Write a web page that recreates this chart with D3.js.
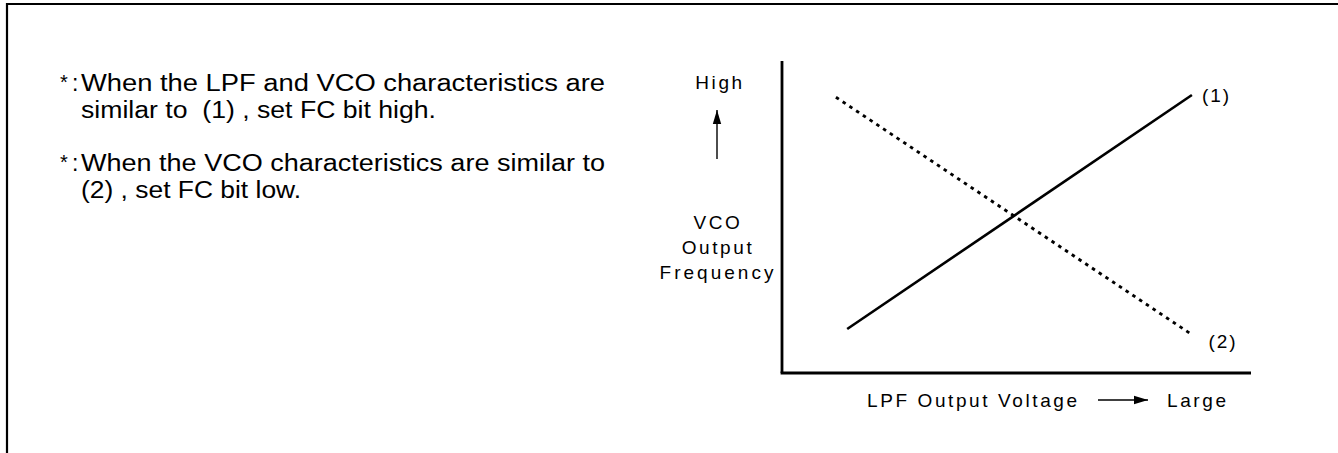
<!DOCTYPE html>
<html>
<head>
<meta charset="utf-8">
<script src="https://cdn.jsdelivr.net/npm/d3@7"></script>
<style>
  body { margin: 0; background: #fff; }
  svg text { font-family: "Liberation Sans", Arial, sans-serif; fill: #000; }
  .note { font-size: 23px; white-space: pre; }
  .lab { font-size: 19px; letter-spacing: 2.6px; }
</style>
</head>
<body>
<svg id="chart" width="1338" height="453"></svg>
<script>

// characteristic lines, in relative units (0..100) of the axes
const lineNames = ['(1)', '(2)'];
const lineX = [[13.9, 87.4], [11.5, 87.5]];
const lineY = [[14.1, 89.1], [88.4, 12.2]];
const lineDash = [null, '3.5,4.6'];

const notes = [
	['*', ':', 'When the LPF and VCO characteristics are', 'similar to  (1) , set FC bit high.'],
	['*', ':', 'When the VCO characteristics are similar to', '(2) , set FC bit low.']
];
// widths the note lines take in the original
const noteWidths = [[524, 355], [524, 220]];

const yLabels = ['VCO', 'Output', 'Frequency'];

const svg = d3.select('#chart');

// frame
svg.append('path')
	.attr('d', 'M7,453 V4 H1338')
	.attr('fill', 'none')
	.attr('stroke', '#000')
	.attr('stroke-width', 2.2);

// notes on the left
notes.forEach((n, i) => {
	const by = 91 + i * 80;
	svg.append('text').attr('class', 'note').attr('x', 60).attr('y', by - 2)
		.style('font-size', '20px').text(n[0]);
	svg.append('text').attr('class', 'note').attr('x', 72).attr('y', by).text(n[1]);
	svg.append('text').attr('class', 'note').attr('x', 81).attr('y', by)
		.attr('textLength', noteWidths[i][0]).attr('lengthAdjust', 'spacingAndGlyphs')
		.text(n[2]);
	svg.append('text').attr('class', 'note').attr('x', 81).attr('y', by + 27)
		.attr('textLength', noteWidths[i][1]).attr('lengthAdjust', 'spacingAndGlyphs')
		.text(n[3]);
});

const x = d3.scaleLinear().domain([0, 100]).range([782, 1251]);
const y = d3.scaleLinear().domain([0, 100]).range([373, 61]);

// axes (plain lines, no ticks)
svg.append('line')
	.attr('x1', x(0)).attr('x2', x(0))
	.attr('y1', y(0)).attr('y2', y(100))
	.attr('stroke', '#000').attr('stroke-width', 2.8);
svg.append('line')
	.attr('x1', x(0) - 1.4).attr('x2', x(100))
	.attr('y1', y(0)).attr('y2', y(0))
	.attr('stroke', '#000').attr('stroke-width', 2.8);

const line = d3.line().x(d => x(d[0])).y(d => y(d[1]));

lineNames.forEach((name, i) => {
	const pts = d3.zip(lineX[i], lineY[i]);
	svg.append('path')
		.attr('d', line(pts))
		.attr('fill', 'none')
		.attr('stroke', '#000')
		.attr('stroke-width', i == 0 ? 2.6 : 2.9)
		.attr('stroke-dasharray', lineDash[i]);
	const end = pts[pts.length - 1];
	svg.append('text')
		.attr('class', 'lab')
		.attr('x', x(end[0]) + (i == 0 ? 10 : 16))
		.attr('y', y(end[1]) + (i == 0 ? 7 : 13))
		.style('letter-spacing', '2px')
		.text(name);
});

// y label
svg.append('text').attr('class', 'lab').attr('x', 720).attr('y', 89)
	.attr('text-anchor', 'middle').text('High');
svg.append('defs').append('marker')
	.attr('id', 'head')
	.attr('viewBox', '0 0 10 10')
	.attr('refX', 10).attr('refY', 5)
	.attr('markerWidth', 14).attr('markerHeight', 14)
	.attr('markerUnits', 'userSpaceOnUse')
	.attr('orient', 'auto')
	.append('path').attr('d', 'M0,2 L10,5 L0,8 Z').attr('fill', '#000');
svg.append('line')
	.attr('x1', 717).attr('x2', 717).attr('y1', 159).attr('y2', 110)
	.attr('stroke', '#000').attr('stroke-width', 1.4)
	.attr('marker-end', 'url(#head)');

yLabels.forEach((t, i) => {
	svg.append('text').attr('class', 'lab')
		.attr('x', 718)
		.attr('y', 229 + i * 25)
		.attr('text-anchor', 'middle')
		.style('letter-spacing', i == 2 ? '3px' : null)
		.text(t);
});

// x label
svg.append('text').attr('class', 'lab').attr('x', 867).attr('y', 407).text('LPF Output Voltage');
svg.append('line')
	.attr('x1', 1098).attr('x2', 1148).attr('y1', 400).attr('y2', 400)
	.attr('stroke', '#000').attr('stroke-width', 1.4)
	.attr('marker-end', 'url(#head)');
svg.append('text').attr('class', 'lab').attr('x', 1167).attr('y', 407).text('Large');

</script>
</body>
</html>
